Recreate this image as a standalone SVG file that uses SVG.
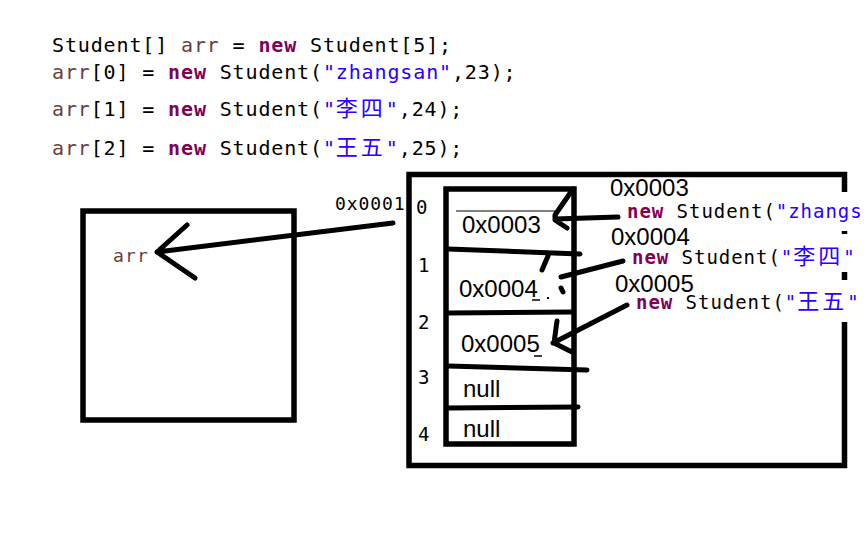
<svg xmlns="http://www.w3.org/2000/svg" width="864" height="540" viewBox="0 0 864 540">
<style>
.code{font-family:"DejaVu Sans Mono","Noto Sans CJK SC",monospace;font-size:20px;letter-spacing:0.86px;fill:#000;white-space:pre}
.code2{font-family:"DejaVu Sans Mono","Noto Sans CJK SC",monospace;font-size:19px;letter-spacing:0.96px;fill:#000;white-space:pre}
.v{fill:#6A3E3E}
.k{fill:#7F0055;font-weight:bold}
.s{fill:#2A00FF}
.cjk{font-size:22px;letter-spacing:3px}
.mono{font-family:"DejaVu Sans Mono",monospace;font-size:18px;letter-spacing:0.9px;fill:#000}
.idx{font-family:"DejaVu Sans Mono",monospace;font-size:19px;fill:#000}
.cell{font-family:"Liberation Sans",Arial,sans-serif;font-size:24px;fill:#000}
.box{fill:none;stroke:#000;stroke-width:5.5;stroke-linejoin:miter}
.pen{fill:none;stroke:#000;stroke-width:5;stroke-linecap:round;stroke-linejoin:round}
.thin{fill:none;stroke:#000;stroke-width:1.2}
</style>
<rect width="864" height="540" fill="#fff"/>

<g id="code">
<text class="code" x="52" y="52">Student[] <tspan class="v">arr</tspan> = <tspan class="k">new</tspan> Student[5];</text>
<text class="code" x="52" y="79"><tspan class="v">arr</tspan>[0] = <tspan class="k">new</tspan> Student(<tspan class="s">"zhangsan"</tspan>,23);</text>
<text class="code" x="52" y="116"><tspan class="v">arr</tspan>[1] = <tspan class="k">new</tspan> Student(<tspan class="s">"<tspan class="cjk">李四</tspan>"</tspan>,24);</text>
<text class="code" x="52" y="155"><tspan class="v">arr</tspan>[2] = <tspan class="k">new</tspan> Student(<tspan class="s">"<tspan class="cjk">王五</tspan>"</tspan>,25);</text>
</g>

<g id="stack">
<rect class="box" x="83" y="211" width="211" height="209"/>
<text class="code" x="113" y="262" style="font-size:18px;letter-spacing:1.2px"><tspan class="v">arr</tspan></text>
</g>

<g id="heap">
<path class="box" d="M844.5 192 V174.5 H409 V465.5 H844.5 V322"/>
<line x1="844.5" y1="231" x2="844.5" y2="234" stroke="#000" stroke-width="5.5"/>
<line x1="844.5" y1="272" x2="844.5" y2="280" stroke="#000" stroke-width="5.5"/>
<text class="mono" x="335" y="210">0x0001</text>
</g>

<g id="array">
<rect class="box" x="446" y="189" width="128" height="255"/>
<line class="thin" x1="456" y1="211" x2="555" y2="211"/>
<path class="pen" d="M448 249 L580 254"/>
<path class="pen" d="M448 313 L573 312"/>
<path class="pen" d="M448 366 L587 370"/>
<path class="pen" d="M448 408 L578 407"/>
<text class="idx" x="416" y="214">0</text>
<text class="idx" x="418" y="272">1</text>
<text class="idx" x="418" y="329">2</text>
<text class="idx" x="418" y="384">3</text>
<text class="idx" x="418" y="441">4</text>
<text class="cell" x="462" y="233">0x0003</text>
<text class="cell" x="459" y="297">0x0004</text>
<text class="cell" x="461" y="352">0x0005</text>
<text class="cell" x="463" y="397">null</text>
<text class="cell" x="463" y="437">null</text>
<line x1="532" y1="300" x2="540" y2="300" stroke="#000" stroke-width="1.5"/>
<rect x="547" y="297" width="2" height="2" fill="#000"/>
<line x1="534" y1="356" x2="542" y2="356" stroke="#000" stroke-width="1.5"/>
</g>

<g id="student0">
<text class="cell" x="610" y="196">0x0003</text>
<text class="code2" x="627" y="218"><tspan class="k">new</tspan> Student(<tspan class="s">"zhangs</tspan></text>
</g>
<g id="student1">
<text class="cell" x="611" y="245">0x0004</text>
<text class="code2" x="632" y="264"><tspan class="k">new</tspan> Student(<tspan class="s">"<tspan class="cjk">李四</tspan>"</tspan></text>
</g>
<g id="student2">
<text class="cell" x="615" y="292">0x0005</text>
<text class="code2" x="636" y="309"><tspan class="k">new</tspan> Student(<tspan class="s">"<tspan class="cjk">王五</tspan>"</tspan></text>
</g>

<g id="connectors">
<path class="pen" d="M393 223 L157 252 M187 225 L157 252 L195 278"/>
<path class="pen" d="M618 217 L555 219 M573 189 L555 215 L555 220 L567 228"/>
<path class="pen" d="M623 261 L561 277 M548 256 L542 270 M561 288 L563 292"/>
<path class="pen" d="M627 305 L553 343 M557 321 L554 343 L572 352"/>
</g>
</svg>
